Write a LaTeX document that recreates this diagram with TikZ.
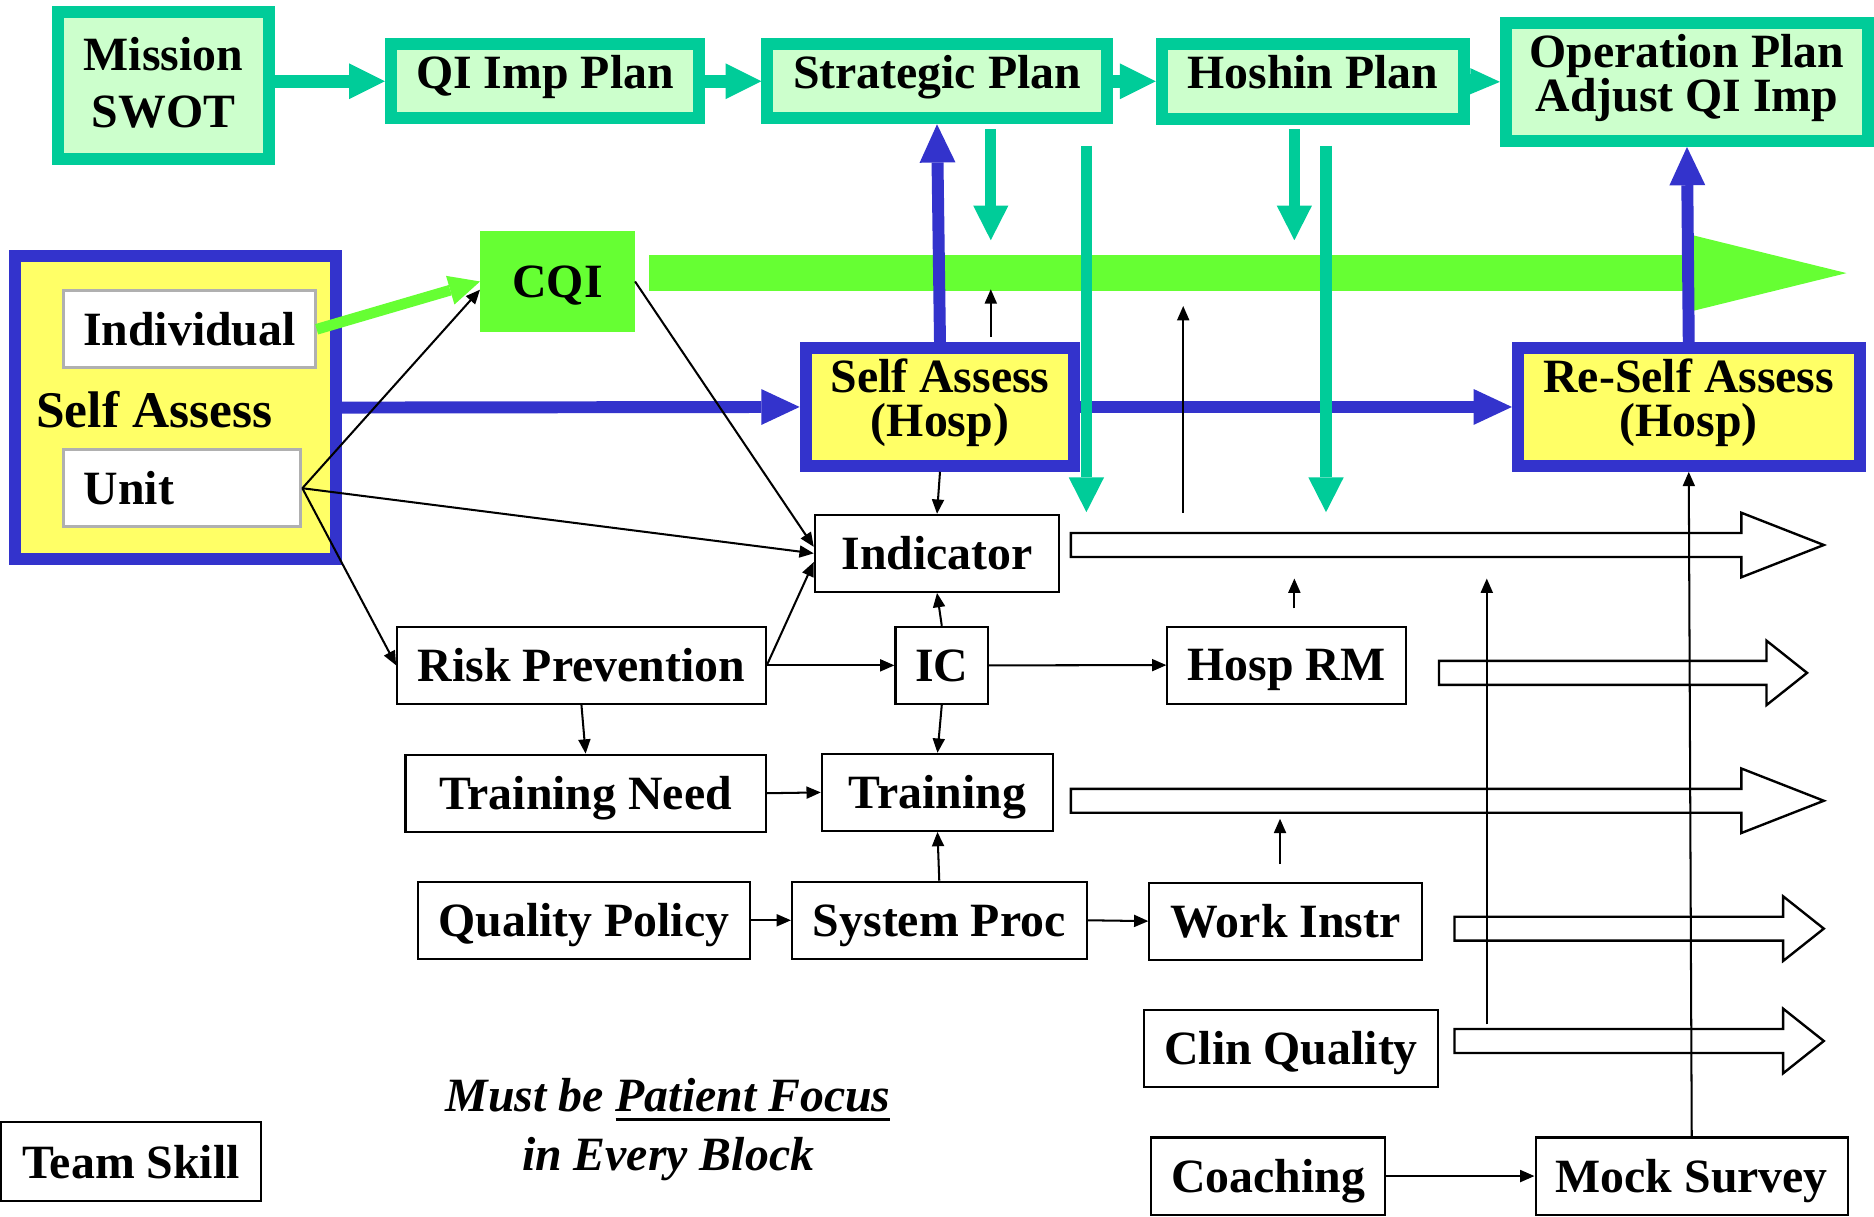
\documentclass[tikz,border=0pt]{standalone}
\usepackage{fontspec}
\setmainfont{Liberation Serif}
\usetikzlibrary{arrows.meta}

\definecolor{planteal}{HTML}{00CC99}
\definecolor{planfill}{HTML}{CCFFCC}
\definecolor{assessblue}{HTML}{3333CC}
\definecolor{assessyellow}{HTML}{FFFF66}
\definecolor{cqigreen}{HTML}{66FF33}
\definecolor{unitgrey}{HTML}{B0B0B0}

\newcommand\boxfont{\fontsize{22.76}{27.3}\selectfont\bfseries}
\newcommand\tightfont{\fontsize{22.76}{20.8}\selectfont\bfseries}
\newcommand\thickul[1]{\setbox0\hbox{#1}\rlap{\rule[-0.2em]{\wd0}{0.07em}}\box0}

\tikzset{
    plan/.style={draw=planteal, line width=0.2cm, fill=planfill, inner sep=0pt, align=center, font=\boxfont},
    hosp/.style={draw=assessblue, line width=0.2cm, fill=assessyellow, inner sep=0pt, align=center, font=\tightfont, text depth=0.87em},
    blk/.style={draw, line width=0.034cm, fill=white, inner sep=0pt, font=\boxfont, text depth=0pt, minimum height=1.29cm},
    grey/.style={draw=unitgrey, line width=0.05cm, fill=white, inner sep=0pt, font=\boxfont, text depth=0pt, minimum height=1.29cm},
    tealarrow/.style={draw=planteal, line width=0.22cm, -{Triangle[length=0.6cm, width=0.6cm, line width=0pt]}},
    tealsmall/.style={tealarrow, -{Triangle[length=0.5cm, width=0.44cm, line width=0pt]}},
    tealdown/.style={draw=planteal, line width=0.19cm, -{Triangle[length=0.58cm, width=0.59cm, line width=0pt]}},
    bluearrow/.style={draw=assessblue, line width=0.2cm, -{Triangle[length=0.64cm, width=0.6cm, line width=0pt]}},
    greenarrow/.style={draw=cqigreen, line width=0.18cm, -{Triangle[length=0.52cm, width=0.5cm, line width=0pt]}},
    band/.style={draw=cqigreen, line width=0.61cm, -{Triangle[length=2.56cm, width=1.26cm, line width=0pt]}},
    conn/.style={draw, line width=0.034cm, -{Triangle[length=0.24cm, width=0.2cm]}},
    outarrow/.style={draw, line width=0.04cm, fill=white},
}

\begin{document}
\begin{tikzpicture}[x=0.02cm, y=-0.02cm]
        \useasboundingbox (0,0) rectangle (1568,1018);

        \draw[outarrow] (896,446) -- (1457,446) -- (1457,429) -- (1526,456) -- (1457,483) -- (1457,466) -- (896,466) -- cycle;
        \draw[outarrow] (1204,553) -- (1478,553) -- (1478,536) -- (1512,563) -- (1478,590) -- (1478,573) -- (1204,573) -- cycle;
        \draw[outarrow] (896,660) -- (1457,660) -- (1457,643) -- (1526,670) -- (1457,697) -- (1457,680) -- (896,680) -- cycle;
        \draw[outarrow] (1217,767) -- (1492,767) -- (1492,750) -- (1526,777) -- (1492,804) -- (1492,787) -- (1217,787) -- cycle;
        \draw[outarrow] (1217,861) -- (1492,861) -- (1492,844) -- (1526,871) -- (1492,898) -- (1492,881) -- (1217,881) -- cycle;

        \coordinate (bandstart) at (543,228.5);
        \coordinate (bandend) at (1545,228.5);
        \draw[band] (bandstart) -- (bandend);

        \node[plan, text depth=0.25em, minimum width=3.52cm, minimum height=2.46cm] (mission) at (136.7,71.2) {Mission\\SWOT};
        \node[plan, text depth=0.85em, minimum width=5.16cm, minimum height=1.24cm] (qiplan) at (456,68) {QI Imp Plan};
        \node[plan, text depth=0.85em, minimum width=5.68cm, minimum height=1.24cm] (strat) at (784,68) {Strategic Plan};
        \node[plan, text depth=0.85em, minimum width=5.06cm, minimum height=1.26cm] (hoshin) at (1098.5,68) {Hoshin Plan};
        \node[plan, font=\tightfont, text depth=0.87em, minimum width=6.06cm, minimum height=1.98cm] (oper) at (1411.5,68.5) {Operation Plan\\Adjust QI Imp};

        \node[draw=assessblue, line width=0.2cm, fill=assessyellow, minimum width=5.37cm, minimum height=5.08cm] (selfbox) at (146.8,341) {};
        \node[grey, minimum width=4.21cm] (indiv) at (158.5,275.5) {Individual};
        \node[grey, text width=3.3cm, align=left, inner xsep=0.335cm] (unit) at (152.5,408.5) {Unit};
        \node[font=\fontsize{24.5}{29}\selectfont\bfseries] (selflbl) at (129,342.6) {Self Assess};

        \node[fill=cqigreen, inner sep=0pt, font=\boxfont, text depth=0pt, minimum width=2.58cm, minimum height=1.7cm] (cqi) at (466.5,235.5) {CQI};
        \node[hosp, minimum width=4.5cm, minimum height=1.97cm] (sah) at (786.5,340.5) {Self Assess\\(Hosp)};
        \node[hosp, minimum width=5.72cm, minimum height=1.97cm] (rsa) at (1413,340.5) {Re-Self Assess\\(Hosp)};

        \node[blk, minimum width=4.09cm] (ind) at (784,463) {Indicator};
        \node[blk, minimum width=6.17cm] (risk) at (486.5,556.7) {Risk Prevention};
        \node[blk, minimum width=1.55cm] (ic) at (788,556.7) {IC};
        \node[blk, minimum width=3.99cm] (hosprm) at (1076.5,556.5) {Hosp RM};
        \node[blk, minimum width=6.03cm] (trneed) at (490,663.7) {Training Need};
        \node[blk, minimum width=3.87cm] (train) at (784.4,663) {Training};
        \node[blk, minimum width=5.55cm] (qpol) at (488.6,770) {Quality Policy};
        \node[blk, minimum width=4.93cm] (sysproc) at (785.9,770) {System Proc};
        \node[blk, minimum width=4.56cm] (workinstr) at (1075.7,770.7) {Work Instr};
        \node[blk, minimum width=4.92cm] (clinq) at (1080.2,877) {Clin Quality};
        \node[blk, minimum width=3.91cm] (coach) at (1061,984) {Coaching};
        \node[blk, minimum width=5.23cm] (mock) at (1415.5,984) {Mock Survey};
        \node[blk, minimum width=4.36cm, minimum height=1.31cm] (team) at (109.7,971.8) {Team Skill};

        \node[font=\fontsize{22.76}{27.9}\selectfont\bfseries\itshape, align=center] (motto) at (559,945) {Must be \thickul{Patient Focus}\\in Every Block};

        \draw[tealarrow] (mission.east |- qiplan.west) -- (qiplan.west);
        \draw[tealarrow] (qiplan.east) -- (strat.west);
        \draw[tealarrow] (strat.east) -- (hoshin.west);
        \draw[tealsmall] (hoshin.east) -- (oper.west);

        \draw[greenarrow] (indiv.east) -- (cqi.west);
        \draw[bluearrow] (selfbox.east) -- (sah.west);
        \draw[bluearrow] (sah.east) -- (rsa.west);
        \draw[bluearrow] (sah.north) -- (strat.south);
        \draw[bluearrow] (rsa.north) -- (oper.south);

        \coordinate (stratdn) at (829,108);
        \coordinate (stratdnend) at (829,201);
        \coordinate (stratlong) at (909,122);
        \coordinate (stratlongend) at (909,428.5);
        \coordinate (hoshindn) at (1083,108);
        \coordinate (hoshindnend) at (1083,201);
        \coordinate (hoshinlong) at (1109.5,122);
        \coordinate (hoshinlongend) at (1109.5,428.5);
        \draw[tealdown] (stratdn) -- (stratdnend);
        \draw[tealdown] (stratlong) -- (stratlongend);
        \draw[tealdown] (hoshindn) -- (hoshindnend);
        \draw[tealdown] (hoshinlong) -- (hoshinlongend);

        \draw[conn] (unit.east) -- (cqi.186);
        \draw[conn] (unit.east) -- (ind.west);
        \draw[conn] (unit.east) -- (risk.west);
        \draw[conn] (cqi.east) -- (ind.177);
        \draw[conn] (risk.east) -- (ind.184);
        \draw[conn] (risk.east) -- (ic.west);
        \draw[conn] (risk.south) -- (trneed.north);
        \draw[conn] (sah.south) -- (ind.north);
        \draw[conn] (ic.north) -- (ind.south);
        \draw[conn] (ic.south) -- (train.north);
        \draw[conn] (ic.east) -- (hosprm.west);
        \draw[conn] (trneed.east) -- (train.west);
        \draw[conn] (qpol.east) -- (sysproc.west);
        \draw[conn] (sysproc.north) -- (train.south);
        \draw[conn] (sysproc.east) -- (workinstr.west);
        \draw[conn] (coach.east) -- (mock.west);
        \draw[conn] (mock.north) -- (rsa.south);

        \coordinate (sahup) at (829,282);
        \coordinate (sahupend) at (829,242);
        \coordinate (indup) at (990,429);
        \coordinate (indupend) at (990,256);
        \coordinate (rmup) at (1083,509);
        \coordinate (rmupend) at (1083,484);
        \coordinate (clinup) at (1244,857);
        \coordinate (clinupend) at (1244,484);
        \coordinate (instrup) at (1071,723);
        \coordinate (instrupend) at (1071,685);
        \draw[conn] (sahup) -- (sahupend);
        \draw[conn] (indup) -- (indupend);
        \draw[conn] (rmup) -- (rmupend);
        \draw[conn] (clinup) -- (clinupend);
        \draw[conn] (instrup) -- (instrupend);
\end{tikzpicture}
\end{document}
